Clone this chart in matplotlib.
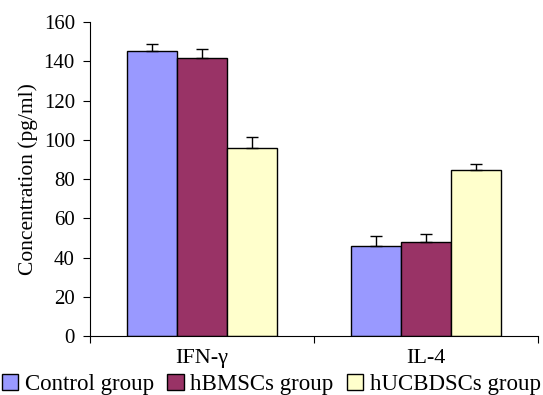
import matplotlib.pyplot as plt
import numpy as np

plt.rcParams['font.family'] = ['Liberation Serif', 'DejaVu Serif']

categories = ['IFN-γ', 'IL-4']
groups = ['Control group', 'hBMSCs group', 'hUCBDSCs group']
colors = ['#9999FF', '#993366', '#FFFFCC']
means = {
    'Control group': [145.3, 45.8],
    'hBMSCs group': [141.7, 48.1],
    'hUCBDSCs group': [96.1, 84.6],
}
errors = {
    'Control group': [3.5, 5.0],
    'hBMSCs group': [4.7, 3.7],
    'hUCBDSCs group': [5.6, 3.0],
}

fig = plt.figure(figsize=(5.43, 3.95), dpi=100)
ax = fig.add_axes([0.166, 0.149, 0.825, 0.795])

x = np.arange(len(categories))
w = 0.223
for i, g in enumerate(groups):
    pos = x + (i - 1) * w
    err = errors[g]
    ax.bar(pos, means[g], w, color=colors[i], edgecolor='black', linewidth=1.0,
           label=g, zorder=2)
    ax.errorbar(pos, means[g], yerr=[np.zeros(len(err)), err], fmt='none',
                ecolor='black', elinewidth=1.0, capsize=4, capthick=1.0, zorder=3)

ax.set_xlim(-0.5, 1.5)
ax.set_ylim(0, 160)
ax.set_yticks(range(0, 161, 20))
ax.set_xticks([-0.5, 0.5, 1.5], minor=False)
ax.set_xticklabels([])
ax.set_xticks(x, minor=True)
ax.set_xticklabels(categories, minor=True)
ax.tick_params(axis='x', which='minor', length=0, pad=9, labelsize=16)
ax.tick_params(axis='x', which='major', length=5, direction='out')
ax.tick_params(axis='y', length=5, direction='out', labelsize=15, pad=6)
ax.spines['top'].set_visible(False)
ax.spines['right'].set_visible(False)
ax.set_ylabel('Concentration (pg/ml)', fontsize=15.5, labelpad=4)

fig.legend(loc='lower center', bbox_to_anchor=(0.5, -0.028), ncol=3, frameon=False,
           fontsize=16.5, handlelength=0.7, handleheight=0.7, handletextpad=0.3,
           columnspacing=0.6, borderaxespad=0.1)

fig.savefig('out.png', dpi=100)
